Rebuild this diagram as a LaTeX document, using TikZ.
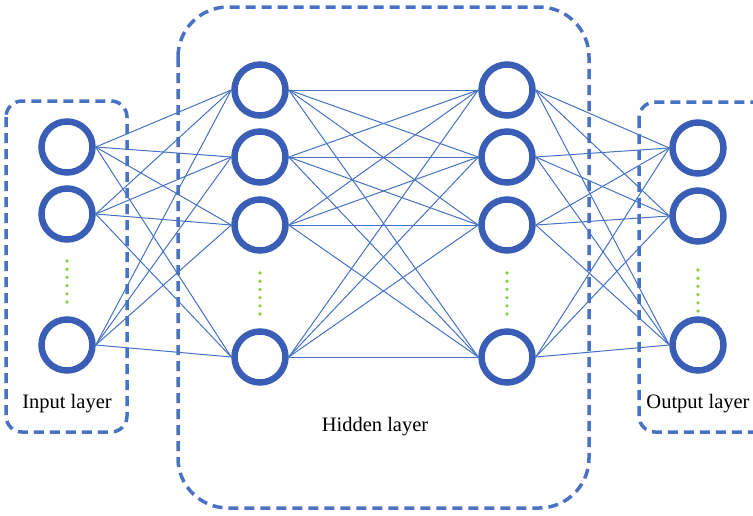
\documentclass[tikz,border=0pt]{standalone}
\usepackage{fontspec}
\setmainfont{Liberation Serif}
\definecolor{ringblue}{HTML}{3A5DB5}
\definecolor{edgeblue}{HTML}{4472C4}
\definecolor{boxblue}{HTML}{4A72C4}
\definecolor{dotgreen}{HTML}{86D03A}
\begin{document}
\begin{tikzpicture}[x=1pt,y=-1pt,
  neuron/.style={circle,draw=ringblue,line width=6.5pt,minimum size=51pt,inner sep=0pt,fill=white},
  conn/.style={draw=edgeblue,line width=1pt},
  layerbox/.style={draw=boxblue,line width=3.5pt,dash pattern=on 10pt off 6pt},
  lbl/.style={font=\fontsize{20.5}{24}\selectfont,text=black,inner sep=0pt}]
\useasboundingbox (0,0) rectangle (753,515);
\clip (0,0) rectangle (753,515);
% boxes
\draw[layerbox,rounded corners=16pt] (6,101) rectangle (127,432);
\draw[layerbox,rounded corners=50pt] (178,7) rectangle (589,508);
\draw[layerbox,rounded corners=16pt] (639,102) rectangle (772,432);
% nodes
\node[neuron] (i1) at (67,147) {};
\node[neuron] (i2) at (67,214) {};
\node[neuron] (i3) at (67,345) {};
\node[neuron] (a1) at (260,90) {};
\node[neuron] (a2) at (260,157) {};
\node[neuron] (a3) at (260,225) {};
\node[neuron] (a4) at (260,357) {};
\node[neuron] (b1) at (507,90) {};
\node[neuron] (b2) at (507,157) {};
\node[neuron] (b3) at (507,225) {};
\node[neuron] (b4) at (507,357) {};
\node[neuron] (o1) at (698,148) {};
\node[neuron] (o2) at (698,216) {};
\node[neuron] (o3) at (698,345) {};
% connections
\foreach \s in {i1,i2,i3}{\foreach \t in {a1,a2,a3,a4}{\draw[conn] (\s.east) -- (\t.west);}}
\foreach \s in {a1,a2,a3,a4}{\foreach \t in {b1,b2,b3,b4}{\draw[conn] (\s.east) -- (\t.west);}}
\foreach \s in {b1,b2,b3,b4}{\foreach \t in {o1,o2,o3}{\draw[conn] (\s.east) -- (\t.west);}}
% dots
\foreach \x/\ya in {67/261, 260/273, 507/273, 698/270}{
  \foreach \k in {0,...,5}{\fill[dotgreen] (\x,\ya+8.2*\k) circle (1.8pt);}}
% labels
\node[lbl] (ilab) at (67,404) {Input layer};
\node[lbl] (hlab) at (375,427) {Hidden layer};
\node[lbl] (olab) at (698,404) {Output layer};
\end{tikzpicture}
\end{document}
